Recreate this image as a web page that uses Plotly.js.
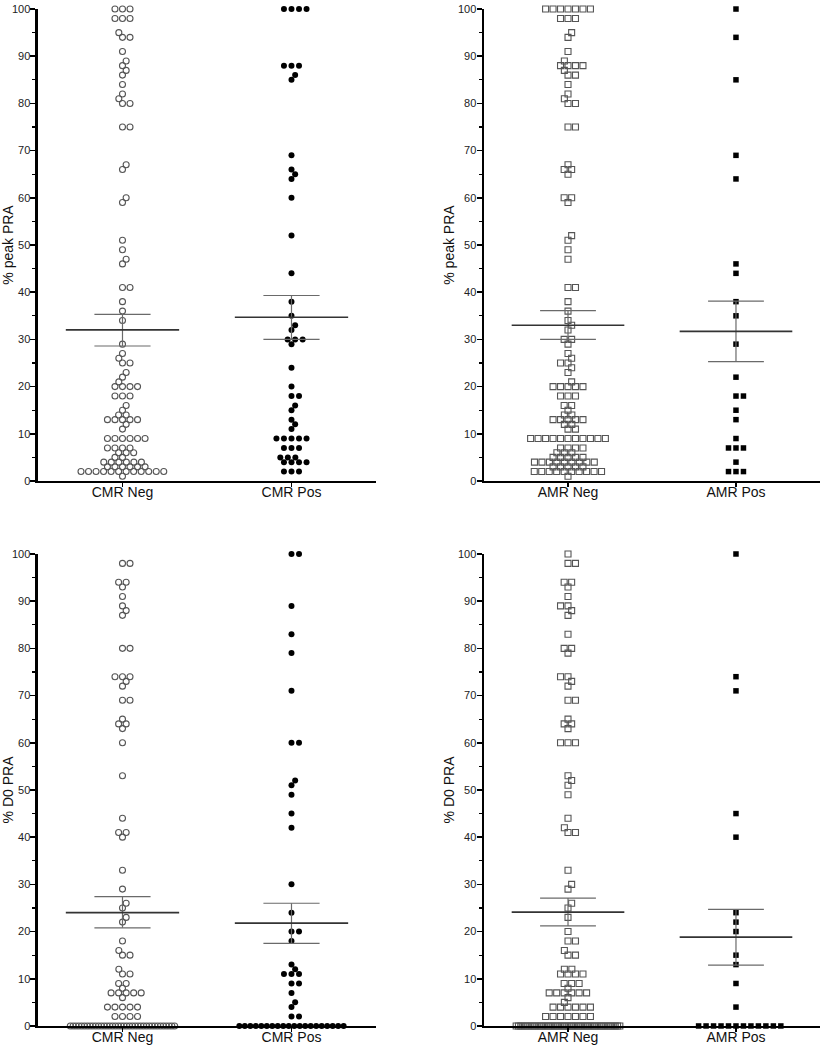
<!DOCTYPE html>
<html><head><meta charset="utf-8">
<script src="https://cdn.plot.ly/plotly-3.0.1.min.js"></script>
<style>html,body{margin:0;padding:0;background:#fff}#chart{width:824px;height:1050px}</style>
</head><body><div id="chart"></div>
<script>
// ---------- data ----------
const cmrCategories = ['CMR Neg', 'CMR Pos'];
const amrCategories = ['AMR Neg', 'AMR Pos'];
const yTickVals = [0, 10, 20, 30, 40, 50, 60, 70, 80, 90, 100];
const yTickText = ['0', '10', '20', '30', '40', '50', '60', '70', '80', '90', '100'];

const peakCmrNeg = [100,100,100,98,98,98,95,94,94,91,89,88,87,86,84,82,81,80,80,75,75,67,66,60,59,51,49,47,46,41,41,38,36,34,29,27,26,25,25,23,22,21,20,20,20,20,18,18,18,16,15,14,14,13,13,13,13,13,12,11,9,9,9,9,9,9,7,7,7,7,6,6,6,5,5,4,4,4,4,4,4,3,3,3,3,3,3,2,2,2,2,2,2,2,2,2,2,2,2,1];
const peakCmrPos = [100,100,100,100,88,88,88,86,85,69,66,65,64,60,52,44,38,35,33,32,30,30,30,29,24,20,18,18,16,15,13,12,11,9,9,9,9,9,7,7,7,5,5,5,4,4,4,4,2,2,2];
const peakAmrNeg = [100,100,100,100,100,100,100,98,98,98,95,94,91,89,88,88,88,88,87,86,86,84,82,81,80,80,75,75,67,66,66,65,60,60,59,52,51,49,47,41,41,38,36,34,33,32,30,30,29,27,26,25,25,24,23,21,20,20,20,20,20,18,18,18,16,16,15,14,14,13,13,13,13,13,12,12,11,11,9,9,9,9,9,9,9,9,9,9,9,7,7,7,7,6,6,6,5,5,5,5,5,4,4,4,4,4,4,4,4,4,3,3,3,3,3,2,2,2,2,2,2,2,2,2,2,1];
const peakAmrPos = [100,94,85,69,64,46,44,38,35,29,22,18,18,15,13,9,7,7,7,4,2,2,2];

const d0CmrNeg = [98,98,94,94,93,91,89,88,87,80,80,74,74,74,73,72,69,69,65,64,64,63,60,53,44,41,41,40,33,29,26,25,23,22,18,16,15,15,12,11,11,9,9,8,7,7,7,7,7,6,4,4,4,4,4,2,2,2,2,0,0,0,0,0,0,0,0,0,0,0,0,0,0,0,0,0,0,0,0,0,0,0,0,0,0,0,0,0,0,0,0,0,0,0,0,0,0];
const d0CmrPos = [100,100,89,83,79,71,60,60,52,51,49,45,42,30,24,20,20,18,13,12,11,11,11,9,9,7,5,4,2,2,0,0,0,0,0,0,0,0,0,0,0,0,0,0,0,0,0,0,0,0];
const d0AmrNeg = [100,98,98,94,94,93,91,89,89,88,87,83,80,80,79,74,74,73,72,69,69,65,64,64,63,60,60,60,53,52,51,49,44,42,41,41,33,30,29,26,25,23,20,18,18,16,15,15,12,12,11,11,11,11,9,9,9,8,7,7,7,7,7,7,6,5,4,4,4,4,4,4,2,2,2,2,2,2,2,0,0,0,0,0,0,0,0,0,0,0,0,0,0,0,0,0,0,0,0,0,0,0,0,0,0,0,0,0,0,0,0,0,0,0,0,0,0,0,0,0,0,0,0,0,0];
const d0AmrPos = [100,74,71,45,40,24,22,20,15,13,9,4,0,0,0,0,0,0,0,0,0,0,0,0];

// mean and SEM limits: [Neg, Pos]
const peakCmrMean = [32.0, 34.7], peakCmrUpper = [35.3, 39.3], peakCmrLower = [28.6, 30.0];
const peakAmrMean = [33.0, 31.7], peakAmrUpper = [36.1, 38.1], peakAmrLower = [30.0, 25.3];
const d0CmrMean = [24.0, 21.8], d0CmrUpper = [27.4, 26.0], d0CmrLower = [20.8, 17.5];
const d0AmrMean = [24.1, 18.8], d0AmrUpper = [27.1, 24.7], d0AmrLower = [21.2, 12.9];

// ---------- layout helpers ----------
const PX_PER_X = 168.5;   // pixels per category unit
const PX_PER_Y = 4.72;    // pixels per % unit
function swarm(values) {
  const sx = 7.5, sy = 5.4, maxHalf = 52;
  const counts = {};
  values.forEach(v => counts[v] = (counts[v] || 0) + 1);
  const placed = [];
  const offs = new Array(values.length);
  Object.keys(counts).forEach(k => {
    const n = counts[k];
    if ((n - 1) * sx > 2 * maxHalf) {
      const sp = 2 * maxHalf / (n - 1);
      let j = 0;
      values.forEach((v, i) => {
        if (v === +k) { const x = -maxHalf + j * sp; offs[i] = x; placed.push({x: x, y: v * PX_PER_Y}); j++; }
      });
    }
  });
  const order = values.map((v, i) => i).filter(i => offs[i] === undefined)
    .sort((a, b) => values[a] - values[b]);
  order.forEach(i => {
    const y = values[i] * PX_PER_Y;
    const near = placed.filter(p => Math.abs(p.y - y) < sy);
    const cands = [0];
    near.forEach(p => {
      const w = sx * Math.sqrt(Math.max(0, 1 - Math.pow((p.y - y) / sy, 2)));
      cands.push(p.x - w, p.x + w);
    });
    const ok = c => near.every(p => Math.pow((c - p.x) / sx, 2) + Math.pow((y - p.y) / sy, 2) >= 1 - 1e-6);
    const bal = near.reduce((s, p) => s + p.x, 0);
    let best = null;
    cands.filter(ok).forEach(c => {
      if (best === null || Math.abs(c) < Math.abs(best) - 1e-6 ||
          (Math.abs(Math.abs(c) - Math.abs(best)) < 1e-6 && (bal > 0 ? c < best : c > best))) best = c;
    });
    offs[i] = best;
    placed.push({x: best, y: y});
  });
  return offs;
}

function pointsTrace(values, catIndex, ax, marker) {
  const offs = swarm(values);
  return {
    type: 'scatter', mode: 'markers', xaxis: 'x' + ax, yaxis: 'y' + ax,
    x: values.map((v, i) => catIndex + offs[i] / PX_PER_X),
    y: values, marker: marker, cliponaxis: false, hoverinfo: 'y'
  };
}
function statTraces(means, uppers, lowers, ax) {
  const out = [];
  means.forEach((m, k) => {
    const hw = 56.5 / PX_PER_X, cw = 28 / PX_PER_X;
    out.push({type: 'scatter', mode: 'lines', xaxis: 'x' + ax, yaxis: 'y' + ax,
      x: [k - cw, k + cw, null, k, k, null, k - cw, k + cw],
      y: [uppers[k], uppers[k], null, uppers[k], lowers[k], null, lowers[k], lowers[k]],
      line: {color: '#6a6a6a', width: 1.2}, hoverinfo: 'skip', cliponaxis: false});
    out.push({type: 'scatter', mode: 'lines', xaxis: 'x' + ax, yaxis: 'y' + ax,
      x: [k - hw, k + hw], y: [m, m],
      line: {color: '#333333', width: 1.7}, hoverinfo: 'skip', cliponaxis: false});
  });
  return out;
}

const openCircle = {symbol: 'circle-open', size: 6, color: '#555', line: {width: 1.1, color: '#555'}};
const fullCircle = {symbol: 'circle', size: 6, color: '#000', line: {width: 0}};
const openSquare = {symbol: 'square-open', size: 6, color: '#555', line: {width: 1.1, color: '#555'}};
const fullSquare = {symbol: 'square', size: 5.5, color: '#000', line: {width: 0}};

const traces = [].concat(
  [pointsTrace(peakCmrNeg, 0, '', openCircle), pointsTrace(peakCmrPos, 1, '', fullCircle)],
  statTraces(peakCmrMean, peakCmrUpper, peakCmrLower, ''),
  [pointsTrace(peakAmrNeg, 0, '2', openSquare), pointsTrace(peakAmrPos, 1, '2', fullSquare)],
  statTraces(peakAmrMean, peakAmrUpper, peakAmrLower, '2'),
  [pointsTrace(d0CmrNeg, 0, '3', openCircle), pointsTrace(d0CmrPos, 1, '3', fullCircle)],
  statTraces(d0CmrMean, d0CmrUpper, d0CmrLower, '3'),
  [pointsTrace(d0AmrNeg, 0, '4', openSquare), pointsTrace(d0AmrPos, 1, '4', fullSquare)],
  statTraces(d0AmrMean, d0AmrUpper, d0AmrLower, '4')
);

const FONT = 'Liberation Sans, Arial, sans-serif';
function xAx(domain, anchor, cats) {
  return {domain: domain, anchor: anchor, range: [-0.5, 1.5], tickvals: [0, 1], ticktext: cats,
    showline: true, linecolor: '#000', linewidth: 2, ticks: 'outside', ticklen: 4, tickwidth: 1.5,
    tickcolor: '#000', tickfont: {size: 14, color: '#111', family: FONT}, ticklabelstandoff: -7,
    showgrid: false, zeroline: false, fixedrange: true, automargin: false};
}
function yAx(domain, anchor, title) {
  return {domain: domain, anchor: anchor, range: [0, 100], tickvals: yTickVals, ticktext: yTickText,
    showline: true, linecolor: '#000', linewidth: 2.5, ticks: 'outside', ticklen: 5, tickwidth: 1.5,
    tickcolor: '#000', tickfont: {size: 11, color: '#222', family: FONT}, ticklabelstandoff: -2,
    minor: {tick0: 0, dtick: 5, ticks: 'outside', ticklen: 3, tickwidth: 1.2, tickcolor: '#000'},
    title: {text: title, font: {size: 14, color: '#111', family: FONT}, standoff: 0},
    showgrid: false, zeroline: false, fixedrange: true, automargin: false};
}
const xL = [0.0461, 0.4563], xR = [0.5874, 0.9951];
const yT = [0.5419, 0.9914], yB = [0.0229, 0.4724];

const layout = {
  width: 824, height: 1050, margin: {l: 0, r: 0, t: 0, b: 0},
  paper_bgcolor: '#fff', plot_bgcolor: 'rgba(0,0,0,0)', showlegend: false,
  font: {family: FONT, color: '#111'},
  xaxis: xAx(xL, 'y', cmrCategories), yaxis: yAx(yT, 'x', '% peak PRA'),
  xaxis2: xAx(xR, 'y2', amrCategories), yaxis2: yAx(yT, 'x2', '% peak PRA'),
  xaxis3: xAx(xL, 'y3', cmrCategories), yaxis3: yAx(yB, 'x3', '% D0 PRA'),
  xaxis4: xAx(xR, 'y4', amrCategories), yaxis4: yAx(yB, 'x4', '% D0 PRA')
};
Plotly.newPlot('chart', traces, layout, {staticPlot: true, displayModeBar: false});
</script></body></html>
